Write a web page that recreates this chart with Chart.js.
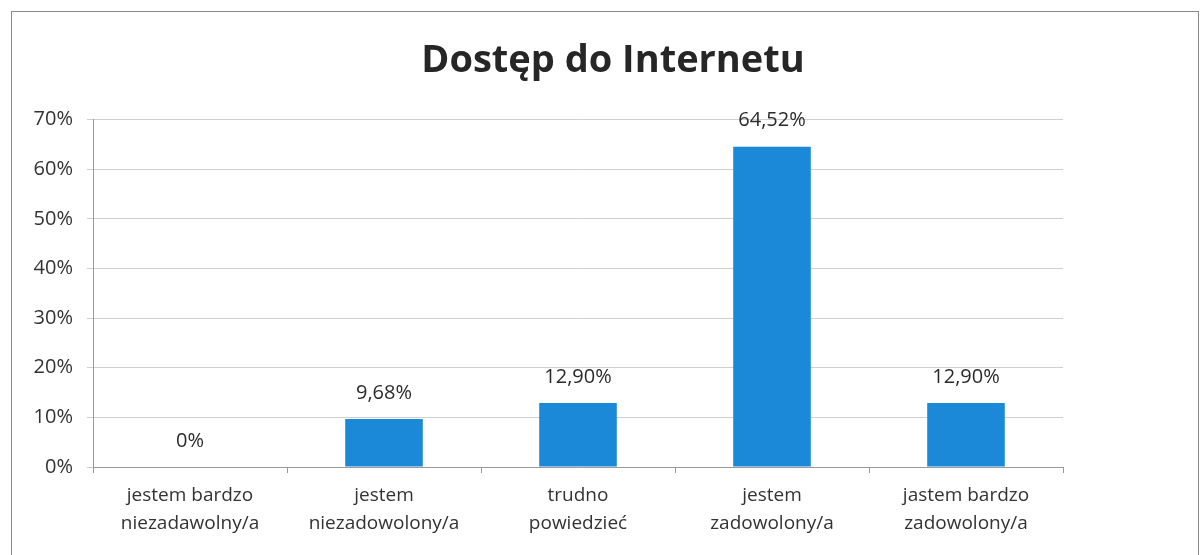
<!DOCTYPE html>
<html lang="pl">
<head>
    <meta charset="UTF-8">
    <title>Dostęp do Internetu</title>
    <script src="https://cdn.jsdelivr.net/npm/chart.js"></script>
    <style>
        html, body { margin: 0; padding: 0; background: #fff; overflow: hidden; }
        #box {
            position: absolute; left: 11px; top: 11px;
            width: 1186px; height: 560px;
            border: 1px solid #8a8a8a;
        }
        #wrap { position: absolute; left: 0; top: 0; width: 1190px; height: 543px; }
    </style>
</head>
<body>
    <div id="box">
        <div id="wrap"><canvas id="myChart"></canvas></div>
    </div>

    <script>
        // dane z wykresu
        const labels = [
            ['jestem bardzo', 'niezadawolny/a'],
            ['jestem', 'niezadowolony/a'],
            ['trudno', 'powiedzieć'],
            ['jestem', 'zadowolony/a'],
            ['jastem bardzo', 'zadowolony/a']
        ];
        const values = [0, 9.68, 12.90, 64.52, 12.90];
        const valueLabels = ['0%', '9,68%', '12,90%', '64,52%', '12,90%'];
        const yTicks = [0, 10, 20, 30, 40, 50, 60, 70];

        const FONT = "'Open Sans', sans-serif";

        // etykiety nad słupkami
        const barLabels = {
            id: 'barLabels',
            afterDatasetsDraw(chart) {
                const ctx = chart.ctx;
                const meta = chart.getDatasetMeta(0);
                ctx.save();
                ctx.font = '20px ' + FONT;
                ctx.fillStyle = '#2b2b2b';
                ctx.textAlign = 'center';
                ctx.textBaseline = 'middle';
                meta.data.forEach((bar, i) => {
                    ctx.fillText(valueLabels[i], bar.x, bar.y - 26);
                });
                ctx.restore();
            }
        };

        const ctx = document.getElementById('myChart').getContext('2d');
        const myChart = new Chart(ctx, {
            type: 'bar',
            data: {
                labels: labels,
                datasets: [{
                    data: values,
                    backgroundColor: '#1c89d8',
                    borderWidth: 0,
                    barPercentage: 1,
                    categoryPercentage: 0.4
                }]
            },
            plugins: [barLabels],
            options: {
                responsive: true,
                maintainAspectRatio: false,
                animation: false,
                layout: { padding: { left: 12, right: 0, top: 0, bottom: 0 } },
                plugins: {
                    legend: { display: false },
                    tooltip: { enabled: false },
                    title: {
                        display: true,
                        text: 'Dostęp do Internetu',
                        color: '#262626',
                        font: { family: FONT, size: 38, weight: 'bold', lineHeight: 1.2 },
                        padding: { top: 26, bottom: 36 }
                    }
                },
                scales: {
                    y: {
                        min: 0,
                        max: 70,
                        afterFit(scale) { scale.width = 69; },
                        afterBuildTicks(scale) { scale.ticks = yTicks.map(v => ({ value: v })); },
                        ticks: {
                            color: '#333',
                            font: { family: FONT, size: 20 },
                            padding: 14,
                            callback: v => v + '%'
                        },
                        grid: { color: '#cfcfcf', tickLength: 6, lineWidth: 1 },
                        border: { color: '#9a9a9a' }
                    },
                    // pusta oś po prawej - tylko odstęp
                    yRight: {
                        position: 'right',
                        afterFit(scale) { scale.width = 139; },
                        ticks: { display: false },
                        grid: { display: false },
                        border: { display: false }
                    },
                    x: {
                        afterFit(scale) { scale.height = 88; },
                        ticks: {
                            color: '#333',
                            font: { family: FONT, size: 19, lineHeight: 1.45 },
                            padding: 9,
                            maxRotation: 0
                        },
                        grid: { offset: true, drawOnChartArea: false, tickLength: 6, color: '#9a9a9a' },
                        border: { color: '#9a9a9a' }
                    }
                }
            }
        });
    </script>
</body>
</html>
